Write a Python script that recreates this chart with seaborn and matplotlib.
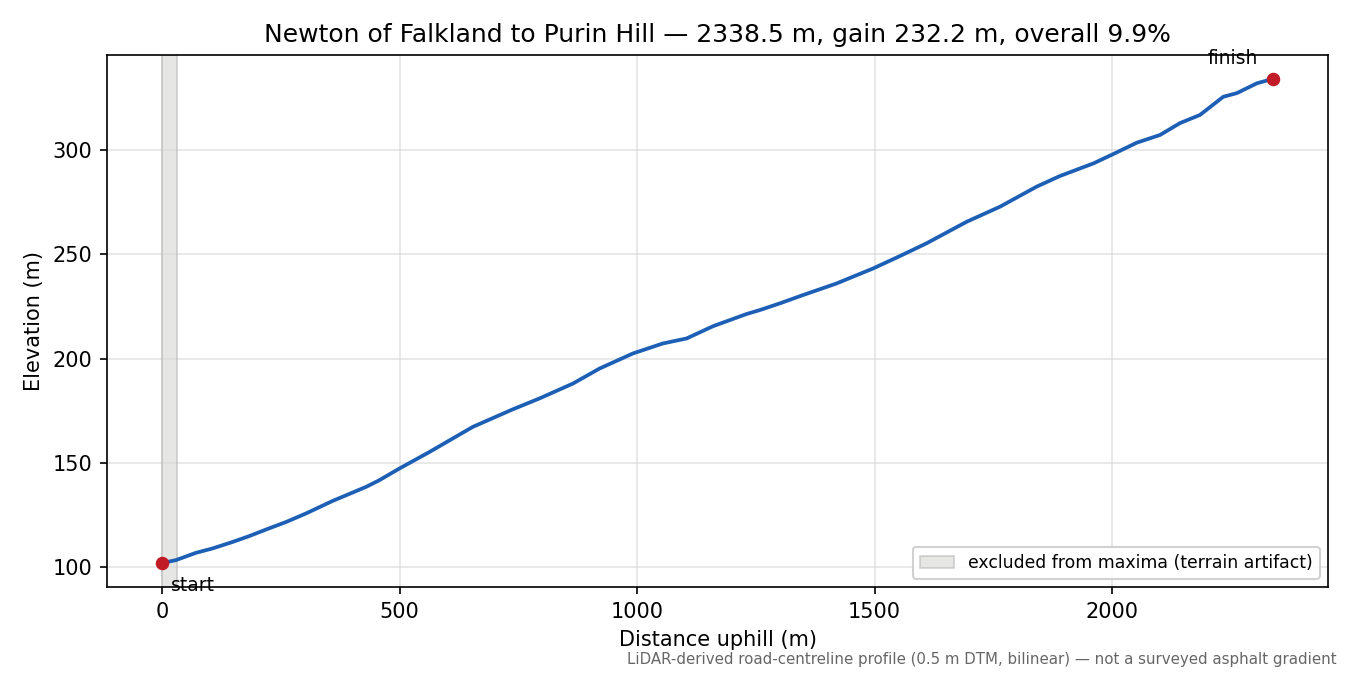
import numpy as np
import pandas as pd
import matplotlib
matplotlib.use("Agg")
import matplotlib.pyplot as plt
import seaborn as sns

# profile (distance uphill in m, elevation in m)
distance = [0, 29, 71, 106, 148, 183, 219, 261, 303, 359, 429, 457, 500, 563,
            654, 738, 795, 865, 921, 991, 1054, 1104, 1160, 1230, 1258, 1300,
            1349, 1420, 1497, 1553, 1609, 1694, 1764, 1841, 1890, 1961, 2003,
            2052, 2101, 2143, 2185, 2234, 2263, 2305, 2338.5]
elevation = [102.0, 103.4, 106.9, 109.0, 112.1, 114.9, 118.1, 121.7, 125.8,
             131.8, 138.5, 141.7, 147.4, 155.3, 167.3, 175.7, 181.0, 188.1,
             195.3, 202.5, 207.3, 209.7, 215.6, 221.4, 223.3, 226.5, 230.5,
             236.1, 243.3, 249.2, 255.3, 265.7, 272.9, 282.5, 287.6, 293.7,
             298.2, 303.6, 307.3, 313.0, 316.9, 325.6, 327.4, 332.1, 334.2]
excluded_span = (0, 32)

title = "Newton of Falkland to Purin Hill \u2014 2338.5 m, gain 232.2 m, overall 9.9%"
note = ("LiDAR-derived road-centreline profile (0.5 m DTM, bilinear) \u2014 "
        "not a surveyed asphalt gradient")

df = pd.DataFrame({"distance": distance, "elevation": elevation})

sns.set_style("ticks", rc={"text.color": "black", "axes.labelcolor": "black",
                           "xtick.color": "black", "ytick.color": "black",
                           "axes.edgecolor": "black"})
plt.rcParams["font.family"] = ["DejaVu Sans"]

fig, ax = plt.subplots(figsize=(9, 4.5), dpi=150)
fig.subplots_adjust(left=0.079, right=0.984, top=0.919, bottom=0.13)

ax.axvspan(*excluded_span, facecolor="#d6d6d3", alpha=0.6, edgecolor="#b5b5b5",
           linewidth=0.8, label="excluded from maxima (terrain artifact)")
sns.lineplot(data=df, x="distance", y="elevation", ax=ax, color="#1c5fb5",
             linewidth=1.8, legend=False)

ends = df.iloc[[0, -1]]
ax.scatter(ends["distance"], ends["elevation"], color="#c11b27", s=30, zorder=5)
ax.annotate("start", (distance[0], elevation[0]), xytext=(4, -6),
            textcoords="offset points", ha="left", va="top", fontsize=9)
ax.annotate("finish", (distance[-1], elevation[-1]), xytext=(-19, 5),
            textcoords="offset points", ha="center", va="bottom", fontsize=9)

ax.set_title(title, fontsize=12)
ax.set_xlabel("Distance uphill (m)", fontsize=10)
ax.set_ylabel("Elevation (m)", fontsize=10)
ax.tick_params(labelsize=10)
ax.grid(True, color="#cccccc", alpha=0.5, linewidth=0.8)
ax.set_axisbelow(True)
ax.legend(loc="lower right", fontsize=8.3, framealpha=0.9)

fig.text(0.99, 0.012, note, ha="right", va="bottom", fontsize=7.2, color="#666666")

fig.savefig("out.png", dpi=150)
